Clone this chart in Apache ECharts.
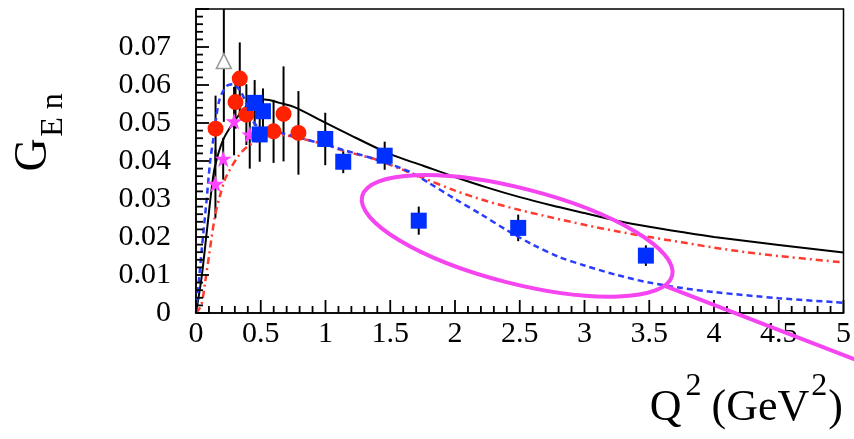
<!DOCTYPE html>
<html><head><meta charset="utf-8">
<script src="https://cdn.jsdelivr.net/npm/echarts@6/dist/echarts.min.js"></script>
<style>html,body{margin:0;padding:0;background:#fff}#c{width:854px;height:439px}</style>
</head><body><div id="c"></div>
<script>
// ---- tick labels ----
const xTickLabels = ['0','0.5','1','1.5','2','2.5','3','3.5','4','4.5','5'];
const yTickLabels = ['0','0.01','0.02','0.03','0.04','0.05','0.06','0.07',''];

// ---- data points (Q^2, G_En, error) ----
const redX   = [0.151, 0.305, 0.338, 0.389, 0.599, 0.676, 0.791];
const redY   = [0.0485, 0.0555, 0.0617, 0.0522, 0.0478, 0.0524, 0.0474];
const redErr = [0.0087, 0.0070, 0.0095, 0.0080, 0.0083, 0.0125, 0.0110];

const blueX   = [0.453, 0.517, 0.492, 0.998, 1.137, 1.457, 1.720, 2.488, 3.474];
const blueY   = [0.0553, 0.0531, 0.0470, 0.0458, 0.0398, 0.0414, 0.0243, 0.0224, 0.0151];
const blueErr = [0.0060, 0.0060, 0.0072, 0.0069, 0.0030, 0.0037, 0.0037, 0.0035, 0.0027];

const starX   = [0.150, 0.210, 0.294, 0.415];
const starY   = [0.0340, 0.0406, 0.0505, 0.0470];
const starErr = [0.0090, 0.0055, 0.0090, 0.0090];

const triX   = [0.215];
const triY   = [0.0663];
const triErr = [0.0160];

// ---- theory curves ----
const blackX = [0, 0.044, 0.082, 0.12, 0.146, 0.21, 0.287, 0.389, 0.466, 0.53, 0.645, 0.773, 0.952, 1.157, 1.5, 1.75, 2.0, 2.25, 2.5, 2.75, 3.0, 3.25, 3.5, 3.75, 4.0, 4.5, 5];
const blackY = [0, 0.0096, 0.021, 0.0325, 0.0385, 0.0456, 0.050, 0.0544, 0.0558, 0.0562, 0.0553, 0.054, 0.0509, 0.0474, 0.0418, 0.0388, 0.0358, 0.0330, 0.0305, 0.0283, 0.0263, 0.0243, 0.0227, 0.0213, 0.0200, 0.0179, 0.0159];

const blueCX = [0, 0.044, 0.082, 0.108, 0.133, 0.18, 0.236, 0.287, 0.35, 0.40, 0.45, 0.5, 0.55, 0.65, 0.8, 1.0, 1.13, 1.39, 1.64, 1.8, 2.0, 2.2, 2.4, 2.6, 2.8, 3.0, 3.25, 3.5, 3.75, 4.0, 4.5, 5];
const blueCY = [0, 0.0166, 0.0298, 0.0395, 0.0456, 0.056, 0.0597, 0.0602, 0.058, 0.054, 0.050, 0.0485, 0.048, 0.0474, 0.0461, 0.0443, 0.043, 0.0404, 0.0373, 0.0342, 0.0300, 0.026, 0.0218, 0.018, 0.0148, 0.0125, 0.0100, 0.0080, 0.0066, 0.0055, 0.0039, 0.0027];

const redCX = [0, 0.04, 0.07, 0.1, 0.146, 0.184, 0.223, 0.25, 0.325, 0.4, 0.5, 0.6, 0.7, 0.8, 1.0, 1.13, 1.39, 1.5, 1.75, 2.0, 2.25, 2.5, 2.75, 3.0, 3.25, 3.5, 3.75, 4.0, 4.25, 4.5, 5];
const redCY = [0, 0.002, 0.008, 0.015, 0.0254, 0.0307, 0.0351, 0.037, 0.0412, 0.0439, 0.0456, 0.0468, 0.0467, 0.046, 0.0443, 0.0428, 0.0404, 0.0390, 0.0356, 0.0322, 0.0294, 0.0271, 0.0251, 0.0232, 0.0215, 0.0200, 0.0186, 0.0172, 0.0160, 0.0150, 0.0133];

// ---- annotation (ellipse + pointer line) in data units ----
const ellipseCenter = [2.48, 0.0203];
const lineStart = [3.625, 0.0071];
const lineEnd = [5.1, -0.0124];

// ---- axis geometry ----
const X_MIN = 0, X_MAX = 5, X_STEP = 0.5, Y_MIN = 0, Y_MAX = 0.08, Y_STEP = 0.01, MINOR_DIV = 5;

const FONT = '"Liberation Serif", "Times New Roman", serif';
const zip = (a, b) => a.map((v, i) => [v, b[i]]);
const zip3 = (a, b, c) => a.map((v, i) => [v, b[i], c[i]]);

function errSeries(xs, ys, es) {
  return {
    type: 'custom', z: 2, clip: true, silent: true,
    renderItem: function (params, api) {
      const x = api.value(0), y = api.value(1), e = api.value(2);
      const p1 = api.coord([x, y + e]), p2 = api.coord([x, y - e]);
      return { type: 'line', shape: { x1: p1[0], y1: p1[1], x2: p2[0], y2: p2[1] },
               style: { stroke: '#000', lineWidth: 2 } };
    },
    encode: { x: 0, y: 1 },
    data: zip3(xs, ys, es)
  };
}

const star = 'path://M50,0 L61,35 L98,35 L68,57 L79,91 L50,70 L21,91 L32,57 L2,35 L39,35 Z';

const chart = echarts.init(document.getElementById('c'), null, { renderer: 'canvas' });
chart.setOption({
  animation: false,
  backgroundColor: '#fff',
  grid: { left: 196, right: 7, top: 9, bottom: 126, show: true, borderColor: '#000', borderWidth: 1.5, backgroundColor: 'transparent' },
  xAxis: {
    type: 'value', min: X_MIN, max: X_MAX, interval: X_STEP,
    axisLine: { show: true, onZero: false, lineStyle: { color: '#000', width: 1.5 } },
    axisTick: { show: false }, minorTick: { show: false }, splitLine: { show: false },
    axisLabel: { show: true, fontFamily: FONT, fontSize: 30, color: '#000', margin: 6,
      formatter: v => xTickLabels[Math.round(v / X_STEP)] }
  },
  yAxis: {
    type: 'value', min: Y_MIN, max: Y_MAX, interval: Y_STEP,
    axisLine: { show: true, onZero: false, lineStyle: { color: '#000', width: 1.5 } },
    axisTick: { show: false }, minorTick: { show: false }, splitLine: { show: false },
    axisLabel: { show: true, fontFamily: FONT, fontSize: 30, color: '#000', margin: 25,
      formatter: v => yTickLabels[Math.round(v / Y_STEP)] }
  },
  series: [
    { type: 'line', data: zip(blackX, blackY), showSymbol: false, smooth: 0.3, z: 3,
      lineStyle: { color: '#000', width: 2 } },
    { type: 'line', data: zip(redCX, redCY), showSymbol: false, smooth: 0.3, z: 3,
      lineStyle: { color: '#ff3b2f', width: 2.5, type: [7, 4, 2, 4] } },
    { type: 'line', data: zip(blueCX, blueCY), showSymbol: false, smooth: 0.3, z: 3,
      lineStyle: { color: '#2a3cff', width: 2.5, type: [6, 4] } },
    errSeries(redX, redY, redErr),
    errSeries(blueX, blueY, blueErr),
    errSeries(starX, starY, starErr),
    errSeries(triX, triY, triErr),
    { type: 'scatter', data: zip(triX, triY), symbol: 'triangle', symbolSize: 15, z: 4,
      itemStyle: { color: '#fff', borderColor: '#999', borderWidth: 1.5, opacity: 1 } },
    { type: 'scatter', data: zip(starX, starY), symbol: star, symbolSize: 17, z: 4,
      itemStyle: { color: '#ff44ff', opacity: 1 } },
    { type: 'scatter', data: zip(redX, redY), symbol: 'circle', symbolSize: 16, z: 5,
      itemStyle: { color: '#ff2200', opacity: 1 } },
    { type: 'scatter', data: zip(blueX, blueY), symbol: 'rect', symbolSize: 16, z: 6,
      itemStyle: { color: '#0030ff', opacity: 1 } }
  ]
});

const toPx = p => chart.convertToPixel({ xAxisIndex: 0, yAxisIndex: 0 }, p);
const c = toPx(ellipseCenter);
const ls = toPx(lineStart);
const le = toPx(lineEnd);

// inward tick marks (major + minor) placed through the axis scales
const tickEls = [];
const nx = Math.round((X_MAX - X_MIN) / X_STEP) * MINOR_DIV;
for (let i = 0; i <= nx; i++) {
  const p = toPx([X_MIN + i * X_STEP / MINOR_DIV, Y_MIN]);
  const len = i % MINOR_DIV === 0 ? 13 : 7;
  tickEls.push({ type: 'line', z: 50, silent: true,
    shape: { x1: p[0], y1: p[1], x2: p[0], y2: p[1] - len },
    style: { stroke: '#000', lineWidth: 1.8 } });
}
const ny = Math.round((Y_MAX - Y_MIN) / Y_STEP) * MINOR_DIV;
for (let i = 0; i <= ny; i++) {
  const p = toPx([X_MIN, Y_MIN + i * Y_STEP / MINOR_DIV]);
  const len = i % MINOR_DIV === 0 ? 13 : 7;
  tickEls.push({ type: 'line', z: 50, silent: true,
    shape: { x1: p[0], y1: p[1], x2: p[0] + len, y2: p[1] },
    style: { stroke: '#000', lineWidth: 1.8 } });
}

chart.setOption({
  graphic: tickEls.concat([
    { type: 'ellipse', x: c[0], y: c[1], rotation: -14.4 * Math.PI / 180, z: 100,
      shape: { cx: 0, cy: 0, rx: 160, ry: 47.5 },
      style: { fill: null, stroke: '#f545f0', lineWidth: 4 } },
    { type: 'line', z: 100, shape: { x1: ls[0], y1: ls[1], x2: le[0], y2: le[1] },
      style: { stroke: '#f545f0', lineWidth: 4 } },
    { type: 'text', x: 34, y: 155, rotation: Math.PI / 2, z: 100,
      style: { text: 'G', fontFamily: FONT, fontSize: 46, fill: '#000', align: 'center', verticalAlign: 'middle' } },
    { type: 'text', x: 54, y: 115, rotation: Math.PI / 2, z: 100,
      style: { text: 'E n', fontFamily: FONT, fontSize: 32, fill: '#000', align: 'center', verticalAlign: 'middle' } },
    { type: 'text', x: 843, y: 371, z: 100,
      style: { text: '{m|Q}{s1|2}{m|(GeV}{s2|2}{m|)}', align: 'right', verticalAlign: 'top', fill: '#000',
        rich: {
          m: { fontFamily: FONT, fontSize: 44, lineHeight: 44, padding: [15, 0, 0, 0], verticalAlign: 'top', fill: '#000' },
          s1: { fontFamily: FONT, fontSize: 32, lineHeight: 32, padding: [0, 10, 0, 4], verticalAlign: 'top', fill: '#000' },
          s2: { fontFamily: FONT, fontSize: 32, lineHeight: 32, padding: [0, 1, 0, 2], verticalAlign: 'top', fill: '#000' }
        } } }
  ])
});
</script>
</body></html>
